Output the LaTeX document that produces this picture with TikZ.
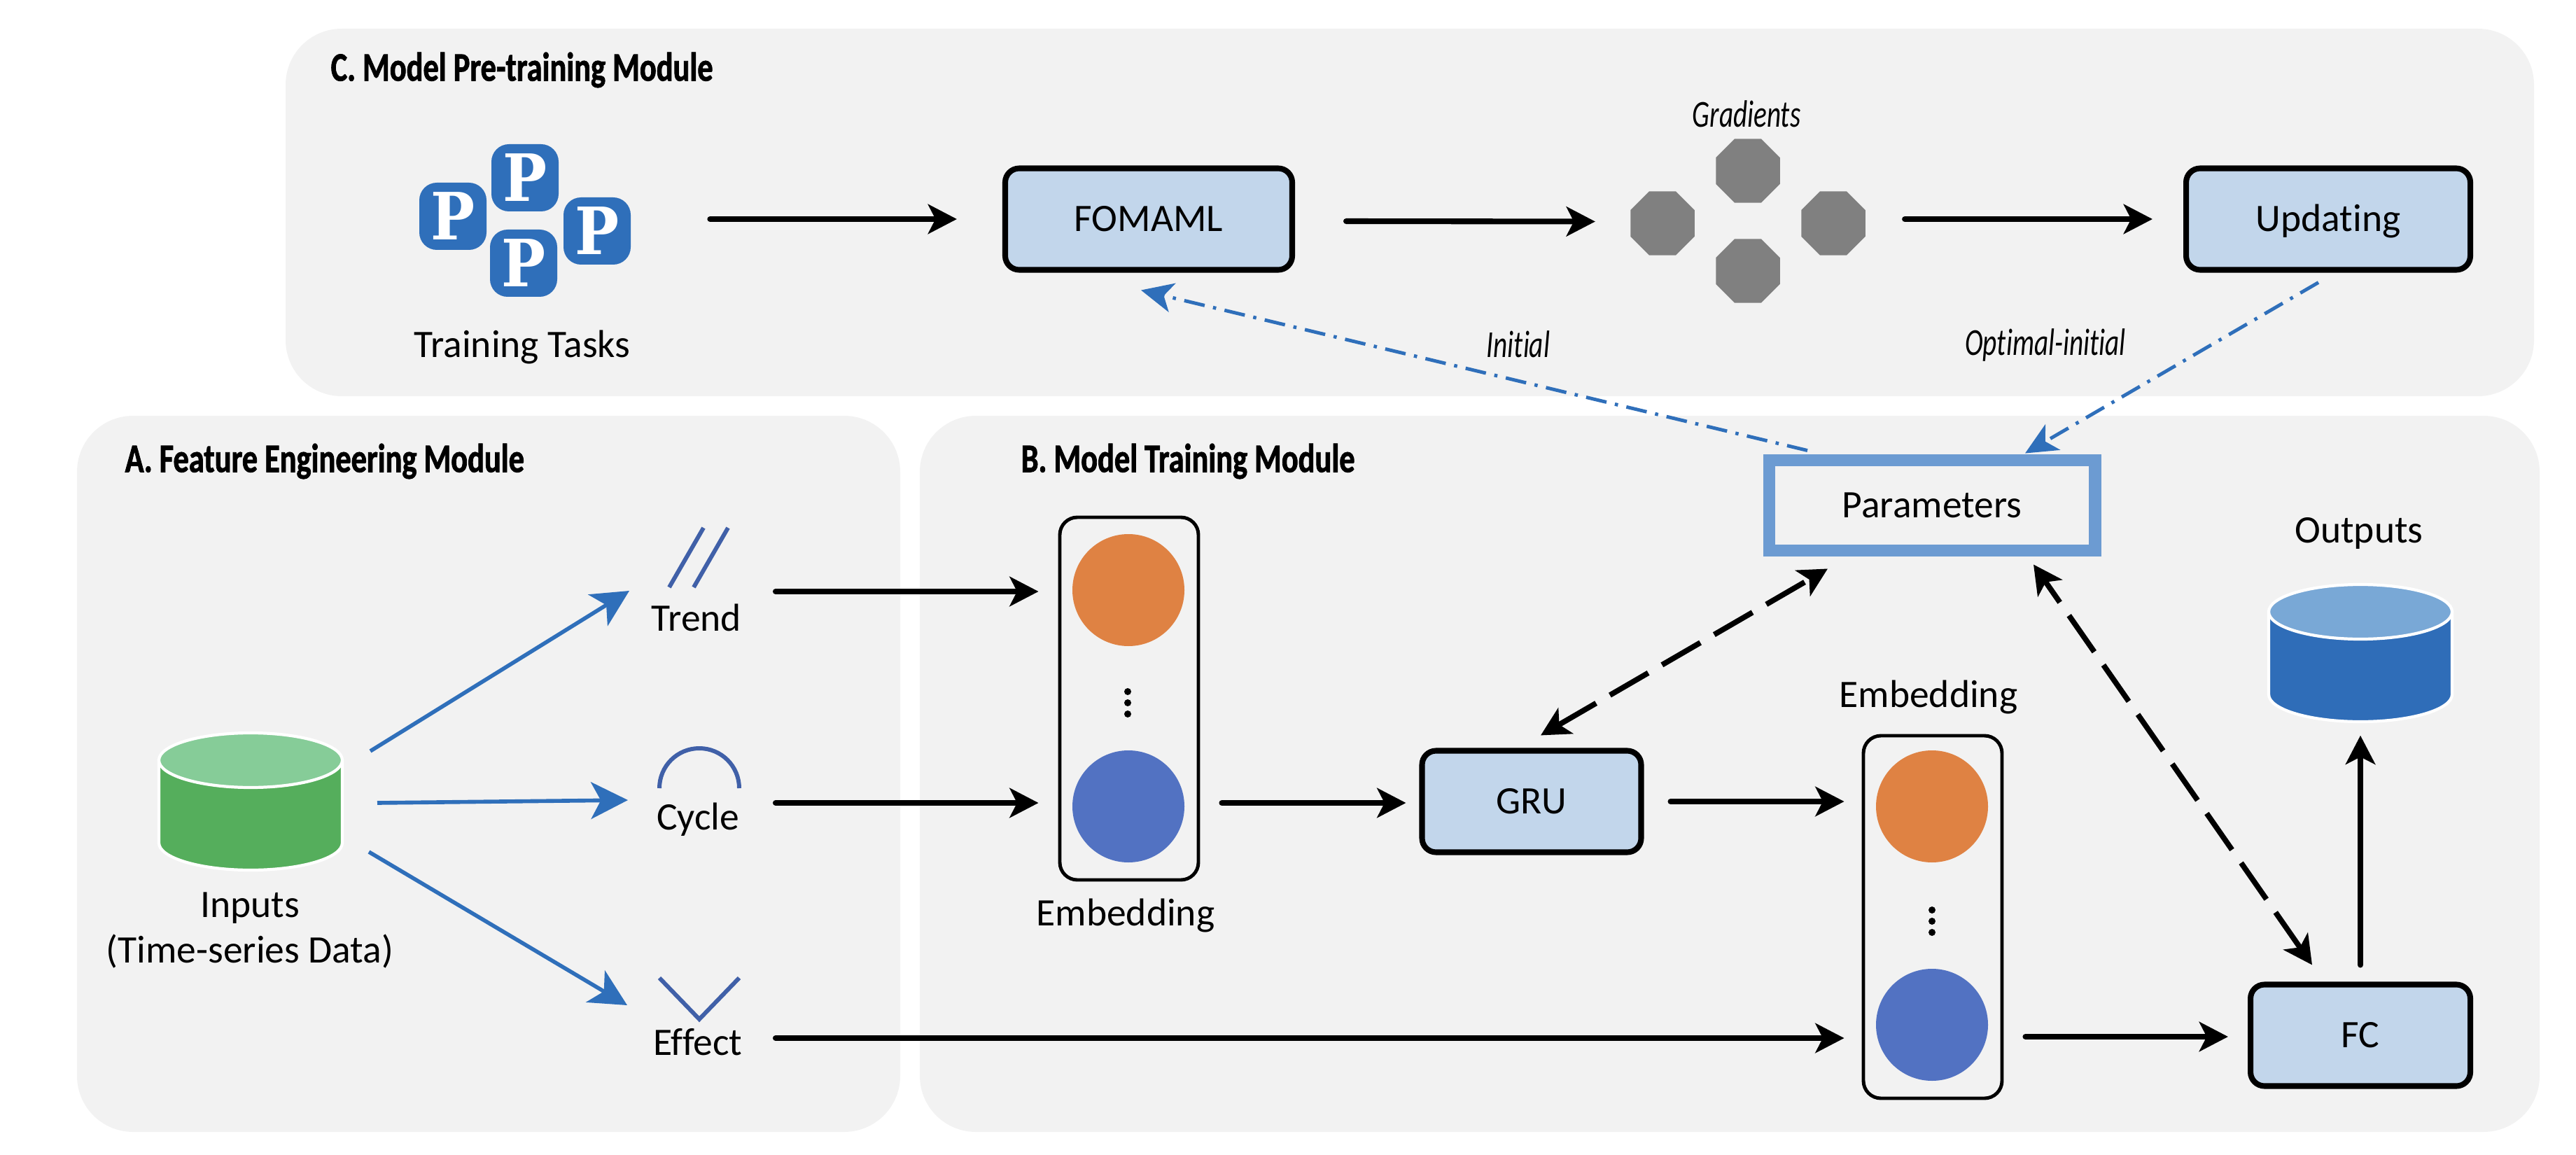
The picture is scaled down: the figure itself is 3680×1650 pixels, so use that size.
\documentclass[tikz,border=0pt]{standalone}
\usepackage{fontspec}
\setmainfont[Ligatures=NoCommon]{Carlito}
\newfontfamily\headfont[FakeStretch=.765,FakeBold=1.4,Ligatures=NoCommon]{Carlito}
\newfontfamily\notefont[FakeStretch=.72,Ligatures=NoCommon]{Carlito}
\newfontfamily\slabfont[FakeStretch=.9]{DejaVu Serif}
\usetikzlibrary{arrows.meta,positioning,shapes.geometric,fit}
\definecolor{panelgray}{HTML}{F2F2F2}
\definecolor{boxblue}{HTML}{C2D6EB}
\definecolor{flowblue}{HTML}{2F6FBA}
\definecolor{iconblue}{HTML}{4060A8}
\definecolor{paramblue}{HTML}{6C9BD2}
\definecolor{dotorange}{HTML}{DF8243}
\definecolor{dotblue}{HTML}{5272C2}
\definecolor{octgray}{HTML}{808080}
\definecolor{cangreen}{HTML}{55AE5C}
\definecolor{cangreenlid}{HTML}{86CC98}
\definecolor{canblue}{HTML}{2F6DB8}
\definecolor{canbluelid}{HTML}{79A8D6}
\tikzset{every node/.style={font=\fontsize{15.8}{19}\selectfont,inner sep=0pt},
  panel/.style={fill=panelgray,rounded corners=8mm},
  title/.style={anchor=west,font=\fontsize{16.5}{19}\selectfont\headfont\bfseries},
  tag/.style={text height=10pt,text depth=0pt},
  note/.style={tag,font=\fontsize{15.5}{19}\selectfont\notefont\itshape},
  block/.style={tag,draw=black,fill=boxblue,line width=2.3pt,rounded corners=2mm,minimum height=14.5mm,minimum width=#1},
  embedbox/.style={draw=black,line width=1.4pt,rounded corners=2.5mm,minimum width=19.8mm,minimum height=51.8mm},
  dot/.style={circle,fill=#1,minimum size=16mm},
  speck/.style={circle,fill=black,minimum size=1mm},
  tile/.style={fill=flowblue,text=white,rounded corners=2.5mm,minimum width=9.6mm,minimum height=9.6mm,text height=19.3pt,text depth=0pt,font=\fontsize{26.5}{26}\selectfont\slabfont\bfseries},
  oct/.style={regular polygon,regular polygon sides=8,fill=octgray,minimum size=9.9mm},
  canspace/.style={minimum width=26.7mm,minimum height=20mm},
  pics/can/.style n args={2}{code={
    \path[fill=#2,draw=white,line width=1.2pt] (-131,-59)--(-131,59) arc[start angle=180,end angle=0,x radius=131,y radius=39]--(131,-59)--cycle;
    \path[fill=#1,draw=white,line width=1.2pt] (0,-59) ellipse[x radius=131,y radius=39];}},
  flow/.style={-{Stealth[length=11.7pt,width=12pt,inset=3pt]},line width=2.3pt,line cap=round},
  feed/.style={-{Stealth[length=15pt,width=15pt,inset=4pt]},draw=flowblue,line width=1.6pt},
  relay/.style={-{Stealth[length=13pt,width=12pt,inset=3.5pt]},draw=flowblue,line width=1.4pt,dash pattern=on 8.5pt off 3.5pt on 1.3pt off 3.5pt},
  sync/.style={{Stealth[length=11.7pt,width=12pt,inset=3pt]}-{Stealth[length=11.7pt,width=12pt,inset=3pt]},line width=2.2pt,dash pattern=on 18pt off 6.5pt},
  icon/.style={draw=iconblue,line width=1.7pt}}
\begin{document}
\begin{tikzpicture}[x=.1mm,y=-.1mm]
\useasboundingbox (0,0) rectangle (3680,1650);
\node[panel,minimum width=32.12cm,minimum height=5.25cm] (panelC) at (2014,303.5) {};
\node[panel,minimum width=11.76cm,minimum height=10.23cm] (panelA) at (698,1105.5) {};
\node[panel,minimum width=23.14cm,minimum height=10.23cm] (panelB) at (2471,1105.5) {};
\node[title] (titleC) at (472,100) {C. Model Pre-training Module};
\node[title] (titleA) at (178,659) {A. Feature Engineering Module};
\node[title] (titleB) at (1458,659) {B. Model Training Module};

\foreach \i/\x/\y in {1/750/254,2/647/309,3/748/376,4/853/330}
  \node[tile] (p\i) at (\x,\y) {P};
\node[fit=(p1)(p2)(p3)(p4)] (tasks) {};
\node[tag] (taskslabel) at (746,493) {Training Tasks};
\node[block=4.1cm] (fomaml) at (1641,313) {FOMAML};
\foreach \i/\x/\y in {1/2497/244,2/2375/319,3/2619/319,4/2497/387}
  \node[oct] (g\i) at (\x,\y) {};
\node[fit=(g1)(g2)(g3)(g4)] (grads) {};
\node[note] (gradlabel) at (2495,164) {Gradients};
\node[block=4.06cm] (updating) at (3326,313) {Updating};
\node[note] (initial) at (2169,493) {Initial};
\node[note] (optimal) at (2922,490) {Optimal-initial};

\node[canspace] (inputs) at (358,1145) {};
\pic at (inputs) {can={cangreenlid}{cangreen}};
\node[align=center,font=\fontsize{15.8}{18.5}\selectfont] (inputslabel) at (357,1329) {Inputs\\(Time-series Data)};
\node[tag] (trend) at (995,884) {Trend};
\node[tag] (cycle) at (997,1168) {Cycle};
\node[tag] (effect) at (997,1490) {Effect};
\draw[icon] (956,839)--(1005,754) (991,839)--(1040,754);
\draw[icon] (942,1126) arc (180:360:57);
\draw[icon] (942,1397)--(999,1456)--(1056,1397);

\node[embedbox] (embedA) at (1613,998) {};
\node[dot=dotorange] (orangeA) at (1612,843) {};
\node[dot=dotblue] (blueA) at (1612,1152) {};
\foreach \i/\y in {1/988,2/1004,3/1020}
  \node[speck] (specksA\i) at (1611,\y) {};
\node[tag] (embedlabelA) at (1608,1305) {Embedding};
\node[block=3.13cm] (gru) at (2188,1145) {GRU};
\node[embedbox] (embedB) at (2761,1310) {};
\node[dot=dotorange] (orangeB) at (2760,1152) {};
\node[dot=dotblue] (blueB) at (2760,1464) {};
\foreach \i/\y in {1/1300,2/1316,3/1332}
  \node[speck] (specksB\i) at (2760,\y) {};
\node[tag] (embedlabelB) at (2755,993) {Embedding};
\node[block=3.14cm] (fc) at (3372,1479) {FC};
\node[tag,draw=paramblue,line width=5.1pt,minimum width=4.65cm,minimum height=1.29cm] (params) at (2760,722) {Parameters};
\node[canspace] (outputs) at (3372,933) {};
\pic at (outputs) {can={canbluelid}{canblue}};
\node[tag] (outputslabel) at (3370,758) {Outputs};

\draw[flow,shorten <=112*.1mm,shorten >=65*.1mm] (tasks.east |- fomaml)--(fomaml.west);
\draw[flow] ([shift={(73,3)}]fomaml.east)--([shift={(-49,1)}]grads.west);
\draw[flow,shorten <=55*.1mm,shorten >=44*.1mm] (grads.east |- updating)--(updating.west);
\draw[flow] ([shift={(113,-39)}]trend.center)--([shift={(-28,-153)}]embedA.west);
\draw[flow] ([shift={(111,-21)}]cycle.center)--([shift={(-28,149)}]embedA.west);
\draw[flow] ([shift={(111,-7)}]effect.center)--([shift={(-25,173)}]embedB.west);
\draw[flow] ([shift={(31,149)}]embedA.east)--([shift={(-19,2)}]gru.west);
\draw[flow] ([shift={(38,0)}]gru.east)--([shift={(-25,-165)}]embedB.west);
\draw[flow] ([shift={(31,171)}]embedB.east)--([shift={(-28,2)}]fc.west);
\draw[flow,shorten <=24*.1mm,shorten >=17*.1mm] (fc.north)--(outputs.south);

\draw[feed] ([shift={(171,-72)}]inputs.center)--([shift={(-96,-40)}]trend.center);
\draw[feed] ([shift={(181,2)}]inputs.center)--([shift={(-100,-25)}]cycle.center);
\draw[feed] ([shift={(169,72)}]inputs.center)--([shift={(-101,-54)}]effect.center);

\draw[relay] ([shift={(-178,-5)}]params.north)--([shift={(-11,25)}]fomaml.south);
\draw[relay] ([shift={(-14,14)}]updating.south)--([shift={(133,-1)}]params.north);
\draw[sync] ([shift={(13,-18)}]gru.north)--([shift={(-149,17)}]params.south);
\draw[sync] ([shift={(-69,-24)}]fc.north)--([shift={(145,11)}]params.south);
\end{tikzpicture}
\end{document}
